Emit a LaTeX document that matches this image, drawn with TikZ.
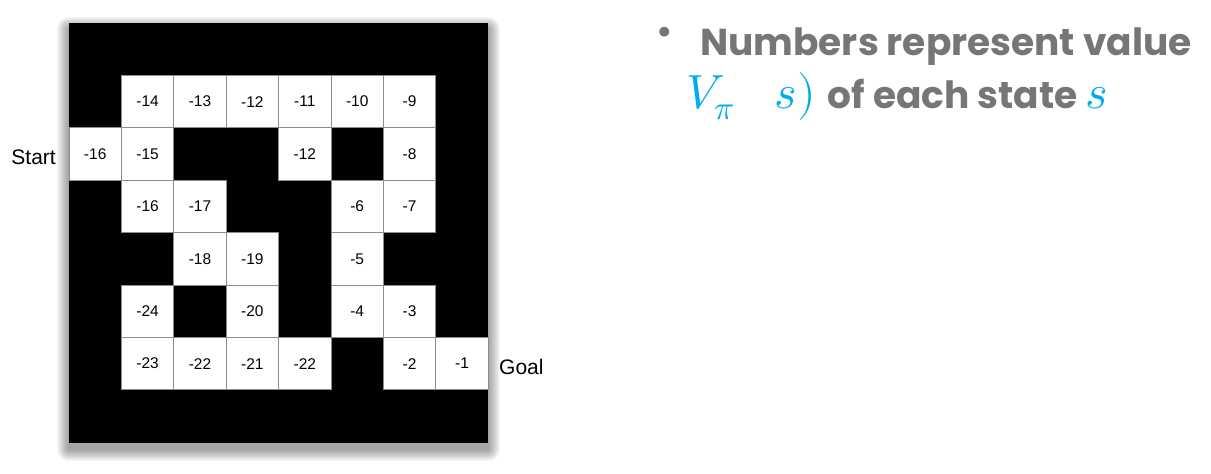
\documentclass[tikz,border=0pt]{standalone}
\usepackage{fontspec}
\usepackage{unicode-math}
\newfontfamily\helv{Liberation Sans}
\newfontfamily\comic{Poppins}
\definecolor{txtgray}{RGB}{118,118,118}
\definecolor{mathcyan}{RGB}{0,172,236}
\tikzset{
  cell/.style={rectangle, fill=white, draw=black!45, line width=0.7pt, minimum size=52.4pt, inner sep=0pt, font=\helv\fontsize{15.5}{17}\selectfont},
  lab/.style={font=\helv\fontsize{21}{24}\selectfont, inner sep=0pt},
}
\begin{document}
\begin{tikzpicture}[x=1pt,y=-1pt]
\useasboundingbox (0,0) rectangle (1211,474);
% shadow
\foreach \i in {1,...,12}{
  \fill[black, opacity=0.035, rounded corners=\i pt] (69-\i,23+6-\i) rectangle (488+\i,443+6+\i);
}
\node[rectangle, fill=black, minimum width=419pt, minimum height=420pt, inner sep=0pt, anchor=north west] (maze) at (69,23) {};
\def\c{52.4}
% row 1
\foreach \col/\v in {1/-14,2/-13,3/-12,4/-11,5/-10,6/-9}{
  \node[cell] (r1c\col) at ({69+(\col+0.5)*\c},{23+1.5*\c}) {\v};
}
% row 2
\foreach \col/\v in {0/-16,1/-15,4/-12,6/-8}{
  \node[cell] (r2c\col) at ({69+(\col+0.5)*\c},{23+2.5*\c}) {\v};
}
% row 3
\foreach \col/\v in {1/-16,2/-17,5/-6,6/-7}{
  \node[cell] (r3c\col) at ({69+(\col+0.5)*\c},{23+3.5*\c}) {\v};
}
% row 4
\foreach \col/\v in {2/-18,3/-19,5/-5}{
  \node[cell] (r4c\col) at ({69+(\col+0.5)*\c},{23+4.5*\c}) {\v};
}
% row 5
\foreach \col/\v in {1/-24,3/-20,5/-4,6/-3}{
  \node[cell] (r5c\col) at ({69+(\col+0.5)*\c},{23+5.5*\c}) {\v};
}
% row 6
\foreach \col/\v in {1/-23,2/-22,3/-21,4/-22,6/-2,7/-1}{
  \node[cell] (r6c\col) at ({69+(\col+0.5)*\c},{23+6.5*\c}) {\v};
}
\node[lab, anchor=east] (start) at (56,157) {Start};
\node[lab, anchor=west] (goal) at (499,367) {Goal};
% text
\node[text=txtgray, font=\comic\fontsize{40}{40}\selectfont, inner sep=0pt] (bullet) at (665,36) {\textbullet};
\node[text=txtgray, font=\comic\bfseries\fontsize{37.5}{40}\selectfont, anchor=base west, inner sep=0pt] (line1) at (700,55) {Numbers represent value};
\node[text=txtgray, font=\comic\bfseries\fontsize{37.5}{40}\selectfont, anchor=base west, inner sep=0pt] (line2) at (686,108) {{\color{mathcyan}\fontsize{48}{50}\selectfont$V_{\pi}\;\;\;s)$}\hspace{4pt} of each state {\color{mathcyan}\fontsize{48}{50}\selectfont$s$}};
\end{tikzpicture}
\end{document}
